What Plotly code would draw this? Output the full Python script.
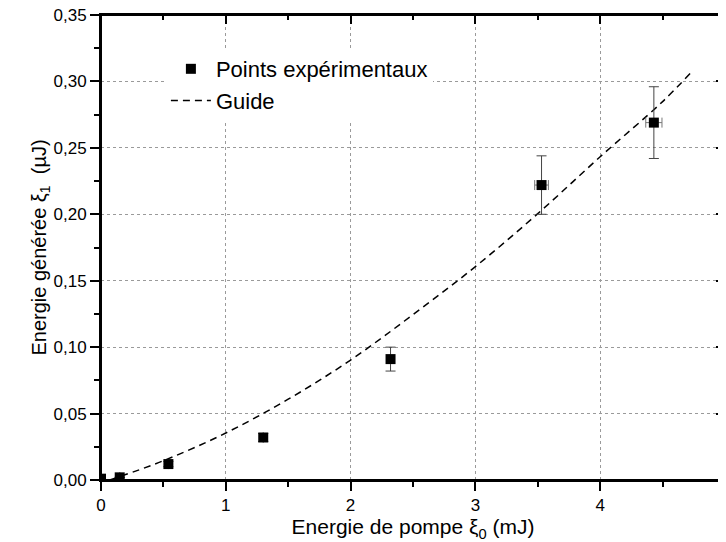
import plotly.graph_objects as go

# Experimental points
pump_energy = [0.0, 0.15, 0.54, 1.30, 2.32, 3.53, 4.43]
gen_energy = [0.001, 0.002, 0.012, 0.032, 0.091, 0.222, 0.269]
err_y = [0.0, 0.0, 0.002, 0.003, 0.009, 0.022, 0.027]
err_x = [0.0, 0.0, 0.0, 0.0, 0.0, 0.055, 0.065]

# Guide curve
guide_x = [0.07, 0.5, 1.0, 1.5, 2.0, 2.5, 3.0, 3.5, 4.0, 4.5, 4.72]
guide_y = [0.0, 0.0145, 0.0354, 0.0608, 0.0903, 0.1245, 0.1606, 0.2005, 0.2433, 0.2848, 0.306]

x_ticks = [0, 1, 2, 3, 4, 5]
y_ticks = [0.00, 0.05, 0.10, 0.15, 0.20, 0.25, 0.30, 0.35]

FONT = "Liberation Sans, Arial, sans-serif"
NB = "\u00a0"

fig = go.Figure()

fig.add_trace(go.Scatter(
    x=guide_x, y=guide_y, mode="lines", name="Guide",
    line=dict(color="black", width=1.5, dash="7px,5px", shape="spline"),
    legendrank=2, legendgroup="b",
))

fig.add_trace(go.Scatter(
    x=pump_energy, y=gen_energy, mode="markers", name="Points expérimentaux",
    marker=dict(symbol="square", size=10, color="black"),
    error_y=dict(type="data", array=err_y, color="#444", thickness=1, width=5),
    error_x=dict(type="data", array=err_x, color="#777", thickness=1, width=5),
    legendrank=1, legendgroup="a",
))

# placeholders (no visible mark) so that the top/right frame axes with inside ticks are drawn
fig.add_trace(go.Scatter(x=[None], y=[None], xaxis="x2", yaxis="y", mode="markers",
                         showlegend=False, hoverinfo="skip"))
fig.add_trace(go.Scatter(x=[None], y=[None], xaxis="x", yaxis="y2", mode="markers",
                         showlegend=False, hoverinfo="skip"))

axis_common = dict(
    showline=True, linecolor="black", linewidth=2,
    tickfont=dict(family=FONT, size=17, color="black"),
    zeroline=False, ticklabeloverflow="allow", automargin=False,
)

fig.update_layout(
    xaxis=dict(
        range=[0, 5], tickvals=x_ticks, ticks="outside", ticklen=9, tickwidth=1.5,
        tickcolor="black",
        minor=dict(dtick=0.5, ticks="outside", ticklen=5, tickwidth=1.5, tickcolor="black", showgrid=False),
        showgrid=True, gridcolor="#9a9a9a", griddash="dot", gridwidth=1,
        title=dict(text="Energie de pompe ξ<sub>0</sub> (mJ)", font=dict(family=FONT, size=21, color="black"), standoff=0),
        **axis_common,
    ),
    yaxis=dict(
        range=[0, 0.35], tickvals=y_ticks, tickformat=".2f", ticks="outside", ticklen=9,
        tickwidth=1.5, tickcolor="black",
        minor=dict(dtick=0.025, ticks="outside", ticklen=5, tickwidth=1.5, tickcolor="black", showgrid=False),
        showgrid=True, gridcolor="#9a9a9a", griddash="dot", gridwidth=1,
        title=dict(text="Energie générée ξ<sub>1</sub>" + NB * 2 + "(µJ)" + NB * 5,
                   font=dict(family=FONT, size=20, color="black"), standoff=0),
        **axis_common,
    ),
    xaxis2=dict(overlaying="x", side="top", anchor="y", range=[0, 5], tickvals=x_ticks,
                showticklabels=False, ticks="inside", ticklen=9, tickwidth=1.5, tickcolor="black",
                minor=dict(dtick=0.5, ticks="inside", ticklen=5, tickwidth=1.5, tickcolor="black"),
                showgrid=False, showline=True, linecolor="black", linewidth=2, zeroline=False,
                automargin=False),
    yaxis2=dict(overlaying="y", side="right", anchor="x", range=[0, 0.35], tickvals=y_ticks,
                showticklabels=False, ticks="inside", ticklen=9, tickwidth=1.5, tickcolor="black",
                minor=dict(dtick=0.025, ticks="inside", ticklen=5, tickwidth=1.5, tickcolor="black"),
                showgrid=False, showline=True, linecolor="black", linewidth=2, zeroline=False,
                automargin=False),
    # plot frame
    shapes=[dict(type="rect", xref="paper", yref="paper", x0=0, x1=1, y0=0, y1=1,
                 line=dict(color="black", width=2), fillcolor="rgba(0,0,0,0)", layer="above")],
)

# page body has an 8px margin: figure is sized/offset to fit the 726x542 window
fig.update_layout(
    width=718, height=534,
    margin=dict(l=93, r=1, t=7, b=62, autoexpand=False),
    paper_bgcolor="white", plot_bgcolor="white",
    separators=", ",
    font=dict(family=FONT, color="black"),
    showlegend=True,
    legend=dict(
        x=0.104, y=0.929, xanchor="left", yanchor="top",
        bgcolor="white", borderwidth=0,
        font=dict(family=FONT, size=22, color="black"),
        traceorder="grouped", tracegroupgap=0, itemwidth=40,
    ),
)

fig.write_html("out.html")
